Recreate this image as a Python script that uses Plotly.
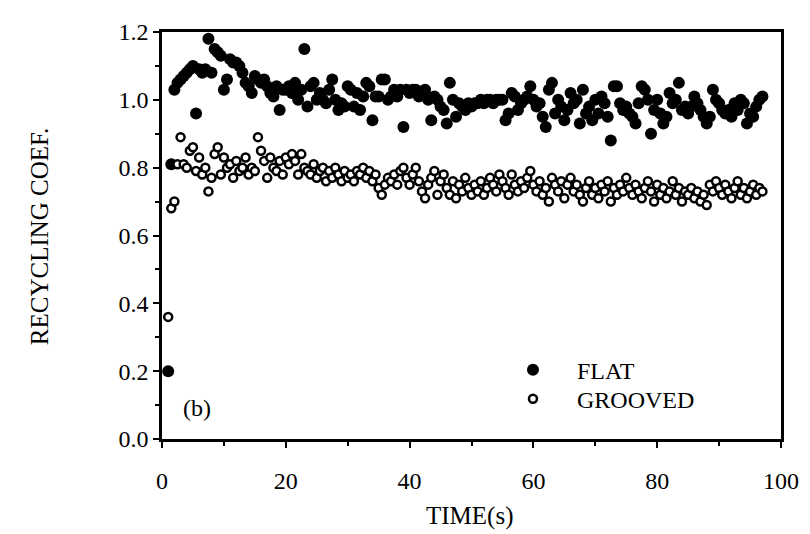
import plotly.graph_objects as go

# sampling times (s)
time_s = [1.0 + 0.5 * i for i in range(193)]

flat = [
    0.20, 0.81, 1.03, 1.05, 1.06, 1.07, 1.08, 1.09, 1.10, 0.96,
    1.09, 1.08, 1.09, 1.18, 1.08, 1.15, 1.14, 1.13, 1.03, 1.06,
    1.12, 1.11, 1.11, 1.10, 1.08, 1.05, 1.04, 1.02, 1.07, 1.06,
    1.05, 1.06, 1.04, 1.02, 1.01, 1.04, 0.97, 1.03, 1.03, 1.04,
    1.02, 1.05, 1.00, 1.03, 1.15, 0.98, 1.04, 1.05, 1.00, 1.02,
    1.00, 0.99, 1.03, 1.06, 1.00, 0.97, 0.99, 0.98, 1.04, 1.03,
    0.98, 1.02, 0.97, 1.01, 1.05, 1.04, 0.94, 1.01, 1.01, 1.06,
    1.06, 1.00, 1.01, 1.03, 1.01, 1.03, 0.92, 1.03, 1.02, 1.03,
    1.03, 1.01, 1.02, 1.03, 1.00, 0.94, 1.01, 1.00, 0.98, 0.97,
    0.93, 1.05, 1.00, 0.95, 0.99, 0.98, 0.97, 0.99, 0.98, 0.99,
    0.99, 1.00, 0.99, 1.00, 1.00, 0.99, 1.00, 1.00, 1.00, 0.94,
    0.96, 1.02, 1.01, 0.97, 0.99, 1.00, 1.01, 1.04, 1.00, 0.98,
    0.99, 0.95, 0.92, 1.03, 1.05, 0.96, 1.00, 0.98, 0.94, 0.97,
    1.02, 0.99, 1.00, 0.93, 1.03, 0.96, 0.98, 0.94, 1.00, 0.96,
    1.01, 0.99, 0.95, 0.88, 1.04, 1.04, 0.99, 0.97, 0.98, 0.96,
    0.95, 0.93, 0.99, 1.04, 1.03, 1.00, 0.90, 0.97, 1.00, 0.96,
    0.93, 0.95, 1.02, 0.99, 1.00, 1.05, 0.97, 0.98, 0.96, 0.98,
    1.01, 0.99, 0.97, 0.95, 0.93, 0.95, 1.03, 1.00, 0.99, 0.97,
    0.96, 0.97, 0.95, 0.99, 0.97, 1.00, 0.99, 0.93, 0.96, 0.95,
    0.98, 1.00, 1.01,
]

grooved = [
    0.36, 0.68, 0.70, 0.81, 0.89, 0.81, 0.80, 0.85, 0.86, 0.79,
    0.83, 0.78, 0.80, 0.73, 0.77, 0.84, 0.86, 0.78, 0.83, 0.80,
    0.81, 0.77, 0.82, 0.79, 0.80, 0.83, 0.78, 0.80, 0.79, 0.89,
    0.85, 0.82, 0.77, 0.83, 0.80, 0.79, 0.82, 0.78, 0.83, 0.81,
    0.84, 0.82, 0.78, 0.84, 0.80, 0.79, 0.78, 0.81, 0.77, 0.79,
    0.80, 0.76, 0.79, 0.77, 0.80, 0.78, 0.76, 0.79, 0.77, 0.78,
    0.76, 0.79, 0.78, 0.80, 0.77, 0.79, 0.76, 0.78, 0.74, 0.72,
    0.75, 0.77, 0.76, 0.78, 0.75, 0.79, 0.80, 0.77, 0.75, 0.78,
    0.80, 0.76, 0.73, 0.71, 0.75, 0.77, 0.79, 0.72, 0.76, 0.78,
    0.74, 0.72, 0.76, 0.71, 0.75, 0.73, 0.77, 0.74, 0.72, 0.75,
    0.73, 0.76, 0.72, 0.74, 0.77, 0.75, 0.73, 0.78, 0.76, 0.74,
    0.72, 0.78, 0.75, 0.73, 0.76, 0.74, 0.77, 0.79, 0.75, 0.73,
    0.76, 0.72, 0.74, 0.70, 0.77, 0.75, 0.73, 0.76, 0.71, 0.75,
    0.77, 0.73, 0.75, 0.72, 0.70, 0.74, 0.76, 0.72, 0.74, 0.71,
    0.75, 0.73, 0.76, 0.70, 0.74, 0.72, 0.75, 0.73, 0.77, 0.74,
    0.72, 0.75, 0.73, 0.71, 0.74, 0.76, 0.73, 0.70, 0.75, 0.72,
    0.74, 0.71, 0.73, 0.76, 0.72, 0.74, 0.70, 0.73, 0.72, 0.74,
    0.71, 0.73, 0.70, 0.72, 0.69, 0.75, 0.73, 0.76, 0.74, 0.72,
    0.75, 0.73, 0.71, 0.74, 0.76, 0.72, 0.74, 0.71, 0.73, 0.75,
    0.72, 0.74, 0.73,
]

x_ticks = [0, 20, 40, 60, 80, 100]
y_ticks = [0.0, 0.2, 0.4, 0.6, 0.8, 1.0, 1.2]
y_tick_labels = ["0.0", "0.2", "0.4", "0.6", "0.8", "1.0", "1.2"]

FONT = "Liberation Serif"
NB = "\u00a0"

fig = go.Figure()
fig.add_trace(go.Scatter(
    x=time_s, y=flat, mode="markers", name=NB * 4 + "FLAT",
    marker=dict(symbol="circle", size=12, color="black", line=dict(width=0)),
    legend="legend", cliponaxis=False,
))
fig.add_trace(go.Scatter(
    x=time_s, y=grooved, mode="markers", name=NB * 4 + "GROOVED",
    marker=dict(symbol="circle", size=8, color="white", line=dict(width=2.5, color="black")),
    legend="legend2", cliponaxis=False,
))

fig.add_annotation(x=5.7, y=0.091, xref="x", yref="y", text="(b)", showarrow=False,
                   font=dict(family=FONT, size=24, color="black"))
fig.add_annotation(x=-0.223, y=0.497, xref="paper", yref="paper", text="RECYCLING COEF.",
                   textangle=-90, showarrow=False,
                   font=dict(family=FONT, size=25, color="black"))
fig.add_annotation(x=0.497, y=-0.19, xref="paper", yref="paper", text="TIME(s)",
                   showarrow=False, yanchor="middle",
                   font=dict(family=FONT, size=25, color="black"))

axis_common = dict(
    showgrid=False, zeroline=False, showline=True, linecolor="black", linewidth=2.5,
    mirror=True, ticks="outside", ticklen=6, tickwidth=2, tickcolor="black",
    tickfont=dict(family=FONT, size=24, color="black"),
)

# The page body has an 8px default margin, so the figure is 8px smaller on each
# axis and its margins are shifted accordingly.
fig.update_layout(
    width=802, height=526,
    margin=dict(l=154, r=20, t=11, b=95),
    paper_bgcolor="white", plot_bgcolor="white",
    font=dict(family=FONT, color="black"),
    xaxis=dict(range=[0, 100], tickvals=x_ticks, ticktext=[str(v) for v in x_ticks],
               ticklabelstandoff=12,
               minor=dict(dtick=10, ticks="outside", ticklen=4, tickwidth=2, tickcolor="black"),
               **axis_common),
    yaxis=dict(range=[0, 1.2], tickvals=y_ticks, ticktext=y_tick_labels,
               minor=dict(dtick=0.1, ticks="outside", ticklen=4, tickwidth=2, tickcolor="black"),
               **axis_common),
    legend=dict(x=0.567, y=0.169, xanchor="left", yanchor="middle", bgcolor="rgba(0,0,0,0)",
                font=dict(family=FONT, size=24, color="black"), itemclick=False),
    legend2=dict(x=0.567, y=0.098, xanchor="left", yanchor="middle", bgcolor="rgba(0,0,0,0)",
                 font=dict(family=FONT, size=24, color="black"), itemclick=False),
    showlegend=True,
)

fig.write_html("out.html")
